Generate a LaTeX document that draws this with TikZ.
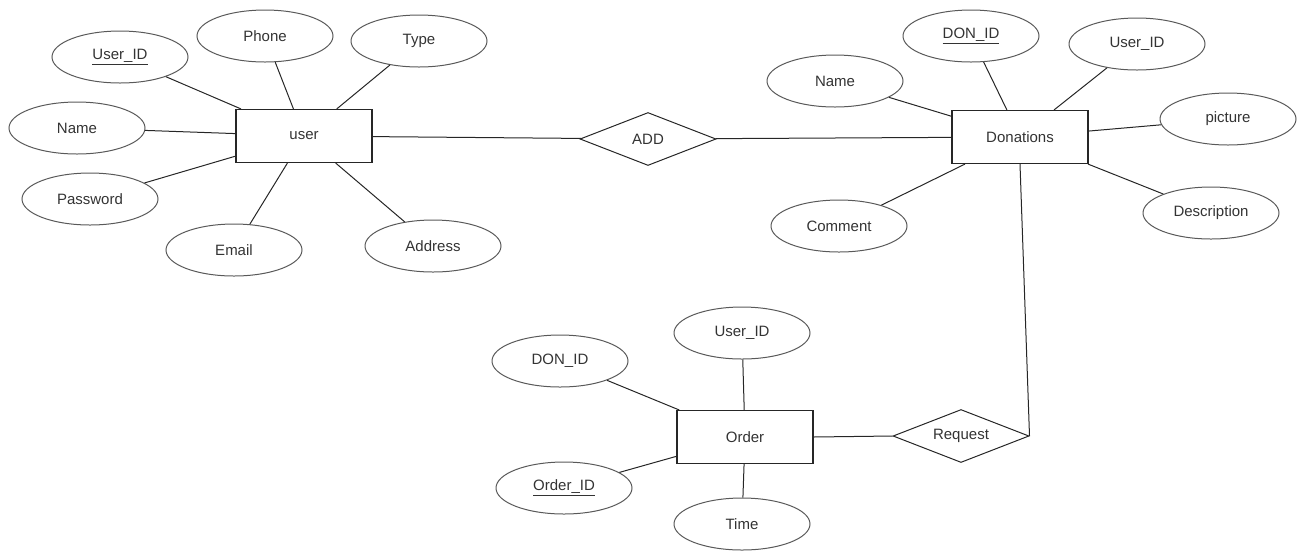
\documentclass[tikz,border=0pt]{standalone}
\usepackage{fontspec}
\setmainfont{Liberation Sans}
\usetikzlibrary{shapes.geometric}
\begin{document}
\begin{tikzpicture}[x=1pt,y=-1pt,
  lbl/.style={text=black!80,font=\fontsize{15}{17}\selectfont},
  attr/.style={lbl,ellipse,draw=black!65,line width=1pt,minimum width=136pt,minimum height=52pt,inner sep=0pt},
  ent/.style={lbl,rectangle,draw=black!85,line width=1.1pt,minimum width=136pt,minimum height=53pt,inner sep=0pt},
  rel/.style={lbl,diamond,draw=black!85,line width=1pt,minimum width=136pt,minimum height=53pt,shape aspect=2.6,inner sep=0pt},
  conn/.style={draw=black!85,line width=1pt}]
\useasboundingbox (0,0) rectangle (1306,550);
% user entity
\node[ent] (user) at (304,136) {user};
\node[attr] (uid) at (120,57) {\underline{User\_ID}};
\node[attr] (phone) at (265,36) {Phone};
\node[attr] (type) at (419,41) {Type};
\node[attr] (uname) at (77,128) {Name};
\node[attr] (pwd) at (90,199) {Password};
\node[attr] (email) at (234,250) {Email};
\node[attr] (addr) at (433,246) {Address};
% ADD
\node[rel] (add) at (648,139) {ADD};
% Donations
\node[ent] (don) at (1020,137) {Donations};
\node[attr] (donid) at (971,36) {\underline{DON\_ID}};
\node[attr] (duid) at (1137,44) {User\_ID};
\node[attr] (dname) at (835,81) {Name};
\node[attr] (pic) at (1228,119) {picture};
\node[attr] (comm) at (839,226) {Comment};
\node[attr] (desc) at (1211,213) {Description};
% Order
\node[ent] (ord) at (745,437) {Order};
\node[rel] (req) at (961,436) {Request};
\node[attr] (oduid) at (742,333) {User\_ID};
\node[attr] (odon) at (560,361) {DON\_ID};
\node[attr] (oid) at (564,488) {\underline{Order\_ID}};
\node[attr] (time) at (742,524) {Time};
% connectors
\foreach \a in {uid,phone,type,uname,pwd,email,addr} \draw[conn] (\a) -- (user);
\foreach \a in {donid,duid,dname,pic,comm,desc} \draw[conn] (\a) -- (don);
\foreach \a in {oduid,odon,oid,time} \draw[conn] (\a) -- (ord);
\draw[conn] (user) -- (add);
\draw[conn] (add) -- (don);
\draw[conn] (don.south) -- (req.east);
\draw[conn] (ord.east) -- (req.west);
\end{tikzpicture}
\end{document}
